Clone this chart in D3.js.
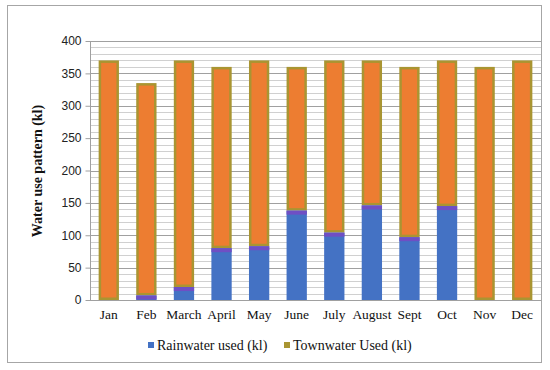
<!DOCTYPE html>
<html><head><meta charset="utf-8">
<script src="https://cdn.jsdelivr.net/npm/d3@7"></script>
<style>body{margin:0;background:#fff}svg{display:block}
.serif{font-family:"Liberation Serif","Times New Roman",Times,"DejaVu Serif",serif}
.sans{font-family:"Liberation Sans",Arial,Helvetica,sans-serif}</style>
</head><body>
<script>
const months = ["Jan","Feb","March","April","May","June","July","August","Sept","Oct","Nov","Dec"];
const rainwater = [0, 7, 20, 80, 83, 138, 104, 146, 97, 145, 0, 0];
const townwater = [370, 328, 350, 280, 287, 222, 266, 224, 263, 225, 360, 370];
const yTicks = [0, 50, 100, 150, 200, 250, 300, 350, 400];
const seriesNames = ["Rainwater used (kl)", "Townwater Used (kl)"];

const W = 550, H = 370;
const m = {left: 90, right: 541, top: 41, bottom: 300};
const svg = d3.select("body").append("svg").attr("width", W).attr("height", H);

svg.append("rect").attr("x", 7.5).attr("y", 5.5).attr("width", 534).attr("height", 357)
  .attr("fill", "#fff").attr("stroke", "#a6a6a6").attr("stroke-width", 1);

const x = d3.scaleBand().domain(months).range([m.left, m.right]).paddingInner(0.46).paddingOuter(0.23);
const y = d3.scaleLinear().domain([0, 400]).range([m.bottom, m.top]);

const minor = d3.range(0, 401, 10).filter(v => v % 50 !== 0);
svg.append("g").selectAll("line").data(minor).join("line")
  .attr("x1", m.left).attr("x2", m.right)
  .attr("y1", d => Math.round(y(d)) + 0.5).attr("y2", d => Math.round(y(d)) + 0.5)
  .attr("stroke", "#d0d0d0").attr("stroke-width", 1);
svg.append("g").selectAll("line").data(yTicks).join("line")
  .attr("x1", m.left).attr("x2", m.right)
  .attr("y1", d => Math.round(y(d)) + 0.5).attr("y2", d => Math.round(y(d)) + 0.5)
  .attr("stroke", "#a0a0a0").attr("stroke-width", 1);

const ya = svg.append("g").attr("transform", `translate(${m.left + 0.5},0)`)
  .call(d3.axisLeft(y).tickValues(yTicks).tickSize(5).tickPadding(4));
ya.attr("font-family", null).attr("class", "sans");
ya.select(".domain").attr("stroke", "#a0a0a0").attr("d", `M0,${m.top}V${m.bottom}`);
ya.selectAll(".tick line").attr("stroke", "#a0a0a0");
ya.selectAll("text").attr("font-size", 12).attr("fill", "#222");

const xa = svg.append("g").attr("transform", `translate(0,${m.bottom + 0.5})`)
  .call(d3.axisBottom(x).tickSize(0).tickPadding(9));
xa.attr("font-family", null).attr("class", "serif");
xa.select(".domain").attr("stroke", "#a0a0a0").attr("d", `M${m.left},0H${m.right}`);
xa.selectAll("text").attr("font-size", 13.5).attr("fill", "#111");

const data = months.map((mo, i) => ({mo, r: rainwater[i], t: townwater[i]}));
const g = svg.append("g");
const sw = 2.5;
g.selectAll(".tw").data(data).join("rect").attr("class", "tw")
  .attr("x", d => x(d.mo) + sw/2).attr("width", x.bandwidth() - sw)
  .attr("y", d => y(d.r + d.t) + sw/2).attr("height", d => Math.max(0, y(d.r) - y(d.r + d.t) - sw))
  .attr("fill", "#ed7d31").attr("stroke", "#a99532").attr("stroke-width", sw);
g.selectAll(".rw").data(data.filter(d => d.r > 0)).join("rect").attr("class", "rw")
  .attr("x", d => x(d.mo)).attr("width", x.bandwidth())
  .attr("y", d => y(d.r)).attr("height", d => y(0) - y(d.r))
  .attr("fill", "#4472c4");
g.selectAll(".rwtop").data(data.filter(d => d.r > 0)).join("rect").attr("class", "rwtop")
  .attr("x", d => x(d.mo)).attr("width", x.bandwidth())
  .attr("y", d => y(d.r)).attr("height", d => Math.min(y(0) - y(d.r), 4))
  .attr("fill", "#6f4fc4");

svg.append("text").attr("class", "serif").attr("transform", "translate(42,171) rotate(-90)")
  .attr("text-anchor", "middle")
  .attr("font-weight", "bold").attr("font-size", 14).attr("fill", "#111")
  .text("Water use pattern (kl)");

const legColors = ["#4472c4", "#a99532"];
const legX = [148, 284];
const lg = svg.append("g").attr("class", "serif");
seriesNames.forEach((n, i) => {
  lg.append("rect").attr("x", legX[i]).attr("y", 342).attr("width", 6).attr("height", 6).attr("fill", legColors[i]);
  lg.append("text").attr("x", legX[i] + 9).attr("y", 350)
    .attr("font-size", 14).attr("fill", "#111").text(n);
});
</script>
</body></html>
